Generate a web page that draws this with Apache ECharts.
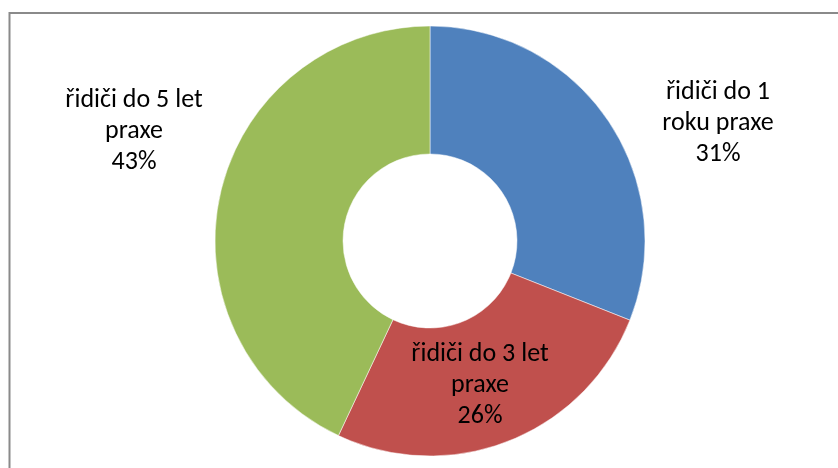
<!DOCTYPE html>
<html>
<head>
<meta charset="utf-8">
<style>
  html, body { margin: 0; padding: 0; background: #fff; }
  #chart { width: 838px; height: 468px; }
</style>
<script src="https://cdn.jsdelivr.net/npm/echarts@6/dist/echarts.min.js"></script>
</head>
<body>
<div id="chart"></div>
<script>
// Podíl řidičů podle délky praxe
const categories = ['řidiči do 1 roku praxe', 'řidiči do 3 let praxe', 'řidiči do 5 let praxe'];
const shares = [31, 26, 43];
const labelLines = [
  ['řidiči do 1', 'roku praxe'],
  ['řidiči do 3 let', 'praxe'],
  ['řidiči do 5 let', 'praxe']
];
const colors = ['#4F81BD', '#C0504D', '#9BBB59'];

// label anchor points (centre of each label block)
const labelAnchors = [[718, 123], [480, 385], [134, 131]];

const chart = echarts.init(document.getElementById('chart'), null, { renderer: 'canvas' });

chart.setOption({
  backgroundColor: '#ffffff',
  animation: false,
  color: colors,
  graphic: [{
    type: 'rect',
    silent: true,
    shape: { x: 9.5, y: 13, width: 1000, height: 600 },
    style: { fill: 'none', stroke: '#8a8a8a', lineWidth: 2 }
  }],
  series: [{
    type: 'pie',
    center: [430, 241],
    radius: [87, 215],
    startAngle: 90,
    clockwise: true,
    avoidLabelOverlap: false,
    itemStyle: { borderColor: '#ffffff', borderWidth: 0.5 },
    label: {
      show: true,
      position: 'inside',
      color: '#000000',
      fontFamily: 'Carlito, Lato, sans-serif',
      fontSize: 26,
      lineHeight: 31,
      align: 'center',
      formatter: p => labelLines[p.dataIndex].join('\n') + '\n' + p.value + '%'
    },
    labelLine: { show: false },
    labelLayout: p => ({
      x: labelAnchors[p.dataIndex][0],
      y: labelAnchors[p.dataIndex][1],
      align: 'center',
      verticalAlign: 'middle'
    }),
    emphasis: { disabled: true },
    data: categories.map((name, i) => ({ name, value: shares[i] }))
  }]
});
</script>
</body>
</html>
